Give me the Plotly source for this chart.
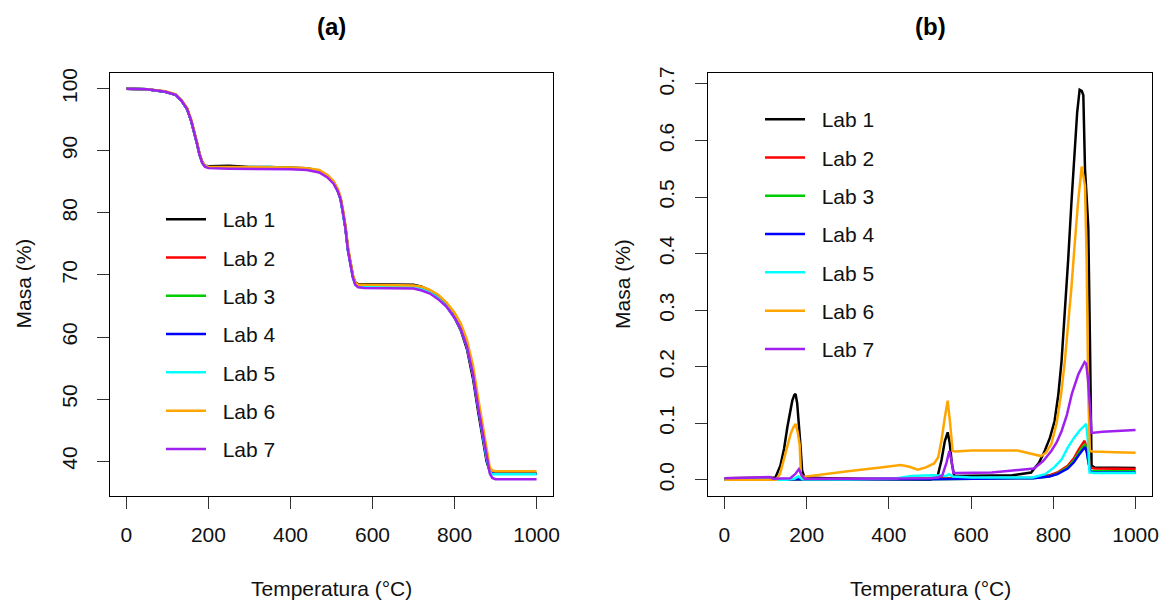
import plotly.graph_objects as go

FONT = "Liberation Sans, Arial, sans-serif"

LABS = ["Lab 1", "Lab 2", "Lab 3", "Lab 4", "Lab 5", "Lab 6", "Lab 7"]
COLORS = ["#000000", "#FF0000", "#00CD00", "#0000FF", "#00FFFF", "#FFA500", "#A020F0"]

# ---------------- Panel (a): mass (%) vs temperature ----------------
T_A = [0, 50, 95, 120, 135, 148, 158, 165, 172, 178, 185, 192, 200, 250, 300, 350, 400, 440, 470, 490,
       505, 515, 522, 528, 534, 540, 546, 552, 558, 565, 580, 650, 700, 720, 740, 760, 780, 800, 815, 830,
       845, 858, 868, 878, 886, 892, 900, 950, 1000]
A_LAB1 = [100.0, 99.9, 99.5, 99.0, 98.0, 96.7, 94.8, 93.2, 91.2, 89.5, 88.2, 87.6, 87.5, 87.6, 87.4, 87.4, 87.3, 87.2, 86.8, 86.0,
          85.0, 83.7, 82.3, 80.1, 77.6, 74.2, 71.7, 69.9, 68.8, 68.5, 68.5, 68.5, 68.4, 68.1, 67.5, 66.5, 65.1, 63.1, 61.1, 58.1,
          53.3, 47.8, 43.8, 40.0, 38.3, 38.0, 38.0, 38.0, 38.0]
A_LAB2 = [100.0, 99.9, 99.5, 99.0, 98.0, 96.7, 94.8, 93.2, 91.2, 89.5, 88.1, 87.5, 87.4, 87.3, 87.3, 87.3, 87.2, 87.1, 86.7, 85.9,
          84.9, 83.6, 82.3, 80.1, 77.6, 74.1, 71.6, 69.8, 68.6, 68.3, 68.3, 68.3, 68.2, 67.9, 67.4, 66.5, 65.2, 63.3, 61.5, 58.7,
          54.2, 48.8, 44.8, 40.8, 38.5, 38.0, 38.0, 38.0, 38.0]
A_LAB3 = [100.0, 99.9, 99.5, 99.0, 98.0, 96.7, 94.8, 93.2, 91.2, 89.5, 88.1, 87.5, 87.4, 87.3, 87.3, 87.3, 87.2, 87.1, 86.7, 85.9,
          84.9, 83.6, 82.3, 80.1, 77.6, 74.1, 71.6, 69.8, 68.5, 68.2, 68.2, 68.2, 68.1, 67.8, 67.3, 66.4, 65.1, 63.2, 61.4, 58.6,
          54.1, 48.7, 44.7, 40.7, 38.4, 38.0, 38.0, 38.0, 38.0]
A_LAB4 = [100.0, 99.9, 99.5, 99.0, 98.0, 96.7, 94.8, 93.2, 91.2, 89.5, 88.1, 87.5, 87.4, 87.3, 87.3, 87.3, 87.2, 87.1, 86.7, 85.9,
          84.9, 83.6, 82.3, 80.1, 77.6, 74.1, 71.6, 69.8, 68.5, 68.2, 68.2, 68.2, 68.1, 67.8, 67.3, 66.4, 65.1, 63.2, 61.4, 58.6,
          54.1, 48.7, 44.7, 40.7, 38.4, 38.0, 38.0, 38.0, 38.0]
A_LAB5 = [100.0, 99.9, 99.5, 99.0, 98.0, 96.7, 94.8, 93.2, 91.2, 89.5, 88.1, 87.5, 87.4, 87.3, 87.4, 87.4, 87.2, 87.1, 86.7, 85.9,
          84.9, 83.6, 82.2, 80.0, 77.5, 74.0, 71.5, 69.7, 68.4, 68.1, 68.1, 68.1, 68.0, 67.7, 67.2, 66.3, 65.0, 63.1, 61.3, 58.5,
          54.0, 48.6, 44.6, 40.6, 38.3, 37.9, 37.9, 37.9, 37.9]
A_LAB6 = [100.0, 99.9, 99.6, 99.1, 98.1, 96.9, 95.0, 93.4, 91.4, 89.6, 88.2, 87.5, 87.4, 87.4, 87.4, 87.3, 87.3, 87.2, 86.9, 86.1,
          85.1, 83.9, 82.6, 80.5, 78.0, 74.6, 72.0, 70.0, 68.8, 68.4, 68.4, 68.4, 68.3, 68.1, 67.6, 66.8, 65.6, 63.9, 62.2, 59.6,
          55.4, 50.0, 45.8, 41.6, 39.0, 38.5, 38.4, 38.4, 38.4]
A_LAB7 = [100.0, 99.9, 99.5, 99.0, 98.0, 96.7, 94.8, 93.2, 91.2, 89.4, 88.0, 87.4, 87.2, 87.1, 87.1, 87.0, 87.0, 86.9, 86.5, 85.7,
          84.7, 83.5, 82.2, 80.0, 77.5, 74.0, 71.5, 69.6, 68.4, 68.0, 67.9, 67.9, 67.8, 67.5, 67.0, 66.1, 64.9, 63.1, 61.3, 58.5,
          54.0, 48.5, 44.5, 40.5, 38.0, 37.3, 37.1, 37.1, 37.1]
A_SERIES = [A_LAB1, A_LAB2, A_LAB3, A_LAB4, A_LAB5, A_LAB6, A_LAB7]

# ---------------- Panel (b): derivative curves ----------------
B_T1 = [0, 124, 136, 145, 153, 160, 165, 170, 173, 177, 181, 185, 189, 195, 250, 350, 450, 500, 518, 528,
        536, 543, 548, 553, 559, 600, 700, 746, 765, 779, 792, 803, 812, 820, 828, 836, 844, 852, 858, 864,
        869, 873, 877, 881, 885, 889, 893, 900, 950, 1000]
B_Y1 = [0.003, 0.004, 0.025, 0.055, 0.093, 0.118, 0.14, 0.15, 0.152, 0.135, 0.104, 0.06, 0.016, 0.004, 0.003, 0.002, 0.0, 0.0, 0.005, 0.035,
        0.068, 0.084, 0.065, 0.03, 0.007, 0.007, 0.008, 0.013, 0.03, 0.051, 0.075, 0.104, 0.15, 0.21, 0.29, 0.388, 0.49, 0.594, 0.65, 0.69,
        0.688, 0.68, 0.55, 0.5, 0.447, 0.25, 0.025, 0.022, 0.022, 0.021]
B_T2 = [0, 200, 500, 600, 750, 790, 810, 835, 850, 862, 870, 876, 880, 885, 890, 900, 1000]
B_Y2 = [0.0, 0.001, 0.002, 0.003, 0.004, 0.008, 0.013, 0.025, 0.038, 0.054, 0.064, 0.069, 0.06, 0.04, 0.022, 0.02, 0.019]
B_T3 = [0, 200, 500, 600, 750, 790, 810, 835, 850, 862, 870, 877, 881, 885, 890, 900, 1000]
B_Y3 = [0.0, 0.001, 0.001, 0.002, 0.003, 0.006, 0.011, 0.022, 0.034, 0.048, 0.057, 0.062, 0.054, 0.032, 0.016, 0.015, 0.015]
B_T4 = [0, 200, 500, 600, 750, 790, 810, 835, 850, 862, 870, 877, 881, 885, 890, 900, 1000]
B_Y4 = [0.0, 0.001, 0.001, 0.002, 0.003, 0.006, 0.01, 0.02, 0.031, 0.044, 0.052, 0.058, 0.05, 0.03, 0.014, 0.013, 0.013]
B_T5 = [0, 150, 170, 180, 190, 300, 420, 455, 505, 540, 546, 555, 600, 750, 780, 802, 820, 835, 851, 865,
        876, 880, 884, 888, 900, 1000]
B_Y5 = [0.0, 0.0, 0.002, 0.006, 0.001, 0.001, 0.003, 0.007, 0.008, 0.007, 0.01, 0.006, 0.004, 0.004, 0.01, 0.022, 0.036, 0.057, 0.075, 0.088,
        0.096, 0.099, 0.07, 0.013, 0.012, 0.012]
B_T6 = [0, 125, 135, 145, 155, 161, 167, 173, 178, 183, 186, 190, 210, 300, 380, 429, 450, 470, 490, 510,
        520, 528, 536, 543, 549, 555, 562, 600, 713, 740, 770, 782, 795, 808, 819, 828, 836, 844, 852, 860,
        869, 877, 881, 885, 889, 895, 950, 1000]
B_Y6 = [0.0, 0.0, 0.01, 0.04, 0.065, 0.081, 0.092, 0.099, 0.085, 0.062, 0.01, 0.005, 0.007, 0.015, 0.022, 0.026, 0.023, 0.018, 0.022, 0.029,
        0.04, 0.07, 0.11, 0.14, 0.1, 0.051, 0.05, 0.052, 0.052, 0.047, 0.042, 0.048, 0.063, 0.1, 0.152, 0.21, 0.27, 0.34, 0.417, 0.49,
        0.554, 0.52, 0.39, 0.15, 0.051, 0.05, 0.049, 0.048]
B_T7 = [0, 110, 118, 160, 172, 181, 188, 195, 300, 400, 500, 520, 530, 540, 547, 552, 557, 565, 650, 753,
        775, 795, 808, 820, 833, 845, 861, 870, 876, 880, 884, 888, 893, 920, 960, 1000]
B_Y7 = [0.003, 0.005, 0.002, 0.003, 0.01, 0.019, 0.008, 0.002, 0.002, 0.002, 0.003, 0.004, 0.008, 0.03, 0.051, 0.035, 0.012, 0.012, 0.013, 0.02,
        0.033, 0.051, 0.066, 0.086, 0.115, 0.152, 0.187, 0.2, 0.208, 0.205, 0.18, 0.14, 0.083, 0.085, 0.087, 0.088]
B_X = [B_T1, B_T2, B_T3, B_T4, B_T5, B_T6, B_T7]
B_SERIES = [B_Y1, B_Y2, B_Y3, B_Y4, B_Y5, B_Y6, B_Y7]

X_TICKS = [0, 200, 400, 600, 800, 1000]
YA_TICKS = [40, 50, 60, 70, 80, 90, 100]
YB_TICKS = [0.0, 0.1, 0.2, 0.3, 0.4, 0.5, 0.6, 0.7]
YB_TICKTEXT = ["0.0", "0.1", "0.2", "0.3", "0.4", "0.5", "0.6", "0.7"]

NBSP = "\u00a0\u00a0"

fig = go.Figure()
for i, (lab, col) in enumerate(zip(LABS, COLORS)):
    fig.add_trace(go.Scatter(x=T_A, y=A_SERIES[i], mode="lines", name=NBSP + lab,
                             line=dict(color=col, width=2.5), xaxis="x", yaxis="y",
                             legend="legend", legendgroup="a" + str(i)))
for i, (lab, col) in enumerate(zip(LABS, COLORS)):
    fig.add_trace(go.Scatter(x=B_X[i], y=B_SERIES[i], mode="lines", name=NBSP + lab,
                             line=dict(color=col, width=2.5), xaxis="x2", yaxis="y2",
                             legend="legend2", legendgroup="b" + str(i)))

W, H = 1164, 603
def px_x(p):
    return p / W
def px_y(p):
    return 1 - p / H

TOP, BOT = 72.5, 495.5
axis_common = dict(showline=True, mirror=True, linecolor="black", linewidth=1,
                   ticks="outside", ticklen=12, tickcolor="#333333", tickwidth=1,
                   showgrid=False, zeroline=False, automargin=False,
                   tickfont=dict(family=FONT, size=21, color="#111111"))

fig.update_layout(
    width=W, height=H, margin=dict(l=0, r=0, t=0, b=0, autoexpand=False),
    paper_bgcolor="white", plot_bgcolor="white",
    font=dict(family=FONT, size=21, color="#111111"),
    xaxis=dict(domain=[px_x(110), px_x(553)], range=[-40, 1040], tickvals=X_TICKS,
               anchor="y", ticklabelstandoff=8, **axis_common),
    yaxis=dict(domain=[px_y(BOT), px_y(TOP)], range=[34.48, 102.6], tickvals=YA_TICKS,
               tickangle=-90, anchor="x", ticklabelstandoff=12, **axis_common),
    xaxis2=dict(domain=[px_x(708), px_x(1152)], range=[-40, 1040], tickvals=X_TICKS,
                anchor="y2", ticklabelstandoff=8, **axis_common),
    yaxis2=dict(domain=[px_y(BOT), px_y(TOP)], range=[-0.0277, 0.7203], tickvals=YB_TICKS,
                ticktext=YB_TICKTEXT, tickangle=-90, anchor="x2", ticklabelstandoff=13, **axis_common),
    legend=dict(x=px_x(161), y=px_y(199), xanchor="left", yanchor="top",
                bgcolor="rgba(0,0,0,0)", font=dict(family=FONT, size=21, color="#111111"),
                tracegroupgap=8, itemwidth=40),
    legend2=dict(x=px_x(760), y=px_y(99), xanchor="left", yanchor="top",
                 bgcolor="rgba(0,0,0,0)", font=dict(family=FONT, size=21, color="#111111"),
                 tracegroupgap=8, itemwidth=40),
    showlegend=True,
)

ann = []
for cx, t in ((331.5, "<b>(a)</b>"), (930, "<b>(b)</b>")):
    ann.append(dict(text=t, x=px_x(cx), y=px_y(26), xref="paper", yref="paper",
                    xanchor="center", yanchor="middle",
                    showarrow=False, font=dict(family=FONT, size=24, color="black")))
for cx in (331.5, 930):
    ann.append(dict(text="Temperatura (°C)", x=px_x(cx), y=px_y(588), xref="paper", yref="paper",
                    xanchor="center", yanchor="middle",
                    showarrow=False, font=dict(family=FONT, size=21, color="#111111")))
for cx in (22.5, 622):
    ann.append(dict(text="Masa (%)", x=px_x(cx), y=px_y(284), xref="paper", yref="paper",
                    xanchor="center", yanchor="middle",
                    textangle=-90, showarrow=False, font=dict(family=FONT, size=21, color="#111111")))
fig.update_layout(annotations=ann)

fig.write_html("out.html", config={"displayModeBar": False},
               post_script="document.body.style.margin='0';document.body.style.padding='0';")
